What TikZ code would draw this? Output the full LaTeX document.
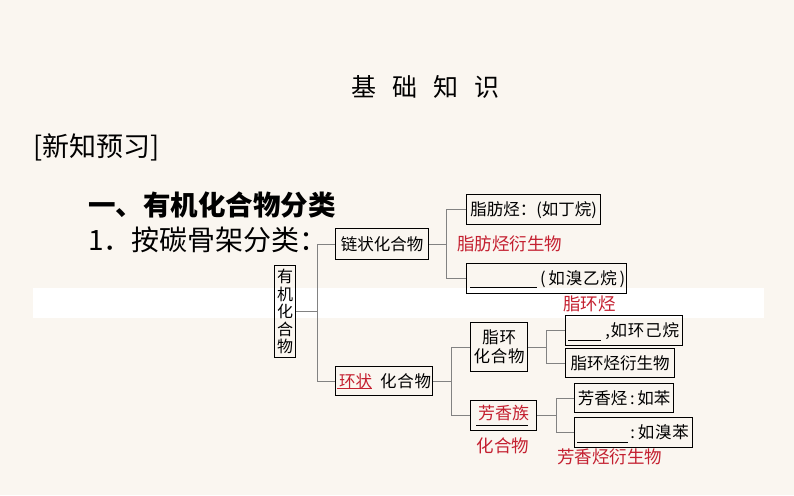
\documentclass[tikz,border=0pt]{standalone}
\usepackage{fontspec}
\setmainfont{Noto Sans CJK SC}
\definecolor{bgc}{RGB}{250,246,240}
\definecolor{redc}{RGB}{196,32,48}
\definecolor{connc}{RGB}{130,130,130}
\newcommand\gapx{\hspace{0.8pt}}
\begin{document}
\begin{tikzpicture}[x=1pt,y=-1pt,
  box/.style={draw=black,line width=1.3pt,inner sep=0pt,font=\fontsize{16.5}{19}\selectfont,anchor=north west},
  conn/.style={draw=connc,line width=0.9pt},
  redtxt/.style={text=redc,font=\fontsize{17.5}{20}\selectfont,inner sep=0pt},
  blank/.style={line width=1pt,draw=black}]
\fill[bgc] (0,0) rectangle (794,495);
\useasboundingbox (0,0) rectangle (794,495);
\fill[white] (33,288) rectangle (764,318);
% headings
\node[font=\fontsize{25}{28}\selectfont,inner sep=0pt] (title) at (425,87) {基\hspace{16pt}础\hspace{16pt}知\hspace{16pt}识};
\node[font=\fontsize{27}{30}\selectfont,inner sep=0pt,anchor=west] (xinzhi) at (33,147) {[新知预习]};
\node[font=\fontsize{27.5}{30}\selectfont\bfseries,inner sep=0pt,anchor=west] (h1) at (88,205) {一、有机化合物分类};
\node[font=\fontsize{28}{30}\selectfont,inner sep=0pt,anchor=west] (h2) at (88,240) {1．按碳骨架分类：};
% boxes
\node[box,minimum width=21pt,minimum height=92pt,align=center,font=\fontsize{16}{17.5}\selectfont] (youji) at (274,265) {有\\机\\化\\合\\物};
\node[box,minimum width=93pt,minimum height=31pt] (lian) at (335,228) {链状化合物};
\node[box,minimum width=97pt,minimum height=29pt] (huan) at (335,366) {\hspace{2pt}\textcolor{redc}{环状}\hspace{8pt}化\gapx 合\gapx 物};
\node[box,minimum width=134pt,minimum height=30pt] (zhifang) at (466,194) {脂肪烃：(如丁烷)};
\node[box,minimum width=160pt,minimum height=30pt] (xiuyi) at (466,263) {\hspace{72pt}(\,如\gapx 溴\gapx 乙\gapx 烷\,)};
\node[box,minimum width=57pt,minimum height=49pt,align=center] (zhihuan) at (470,322) {脂\gapx 环\\化\gapx 合\gapx 物};
\node[box,minimum width=66pt,minimum height=30pt,font=\fontsize{17}{19}\selectfont] (fang) at (470,400) {\textcolor{redc}{芳香族}\rule[-6pt]{0pt}{1pt}};
\node[box,minimum width=117pt,minimum height=30pt] (jihuan) at (565,315) {\hspace{36pt},\gapx 如\gapx 环\gapx 己\gapx 烷};
\node[box,minimum width=109pt,minimum height=29pt] (zhihuanyan) at (565,348) {脂环烃衍生物};
\node[box,minimum width=99pt,minimum height=29pt] (fangting) at (574,383) {芳香烃\,:\,如苯};
\node[box,minimum width=118pt,minimum height=30pt] (xiuben) at (574,417) {\hspace{52pt}:\,如\gapx 溴\gapx 苯};
% red labels
\node[redtxt,anchor=west] (zfyan) at (457,244) {脂肪烃衍生物};
\node[redtxt,anchor=west] (zhlab) at (563,304) {脂环烃};
\node[redtxt] (fhlab) at (503,446) {化合物};
\node[redtxt,anchor=west] (fyan) at (557,457) {芳香烃衍生物};
% underlines / blanks
\draw[draw=redc,line width=1pt] (337,388) -- (372,388);
\draw[blank] (476,425) -- (528,425);
\draw[blank] (470,287) -- (537,287);
\draw[blank] (568,340) -- (601,340);
\draw[blank] (577,442) -- (628,442);
% connectors
\draw[conn] (youji.east) -- ++(21,0) coordinate (j1);
\draw[conn] (j1) |- (lian.west);
\draw[conn] (j1) |- (huan.west);
\draw[conn] (lian.east) -- ++(17,0) coordinate (j2);
\draw[conn] (j2) |- (zhifang.west);
\draw[conn] (j2) |- (xiuyi.west);
\draw[conn] (huan.east) -- ++(18,0) coordinate (j3);
\draw[conn] (j3) |- (zhihuan.west);
\draw[conn] (j3) |- (fang.west);
\draw[conn] (zhihuan.east) -- ++(18,0) coordinate (j4);
\draw[conn] (j4) |- (jihuan.west);
\draw[conn] (j4) |- (zhihuanyan.west);
\draw[conn] (fang.east) -- ++(19,0) coordinate (j5);
\draw[conn] (j5) |- (fangting.west);
\draw[conn] (j5) |- (xiuben.west);
\end{tikzpicture}
\end{document}
